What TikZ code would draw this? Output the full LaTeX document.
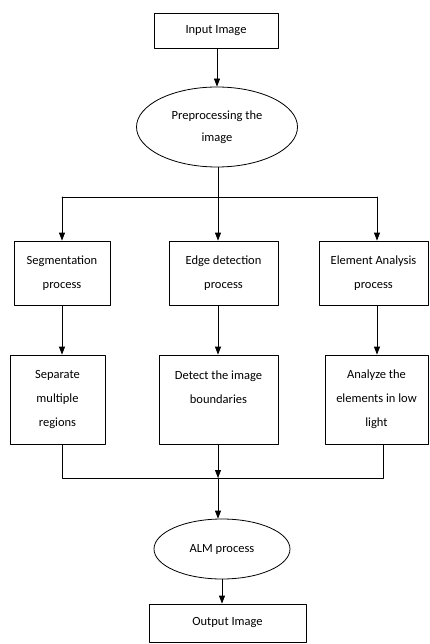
\documentclass[tikz,border=0pt]{standalone}
\usepackage{fontspec}
\setmainfont{Carlito}
\usetikzlibrary{arrows.meta,shapes.geometric}
\begin{document}
\begin{tikzpicture}[line cap=round,line join=round,>={Triangle[length=8pt,width=6pt]},x=1pt,y=-1pt,line width=0.8pt,
	box/.style={draw,rectangle,align=center,inner sep=0pt,font=\fontsize{12.5}{24}\selectfont},
	oval/.style={draw,ellipse,align=center,inner sep=0pt,font=\fontsize{12.5}{22}\selectfont}]
			\useasboundingbox (0,0) rectangle (429,644);
			\node[box,minimum width=124pt,minimum height=35pt] (in) at (216,30.5) {Input Image};
			\node[oval,minimum width=161pt,minimum height=80pt] (pre) at (217,127) {Preprocessing the\\image};
			\node[box,minimum width=96pt,minimum height=64pt] (seg) at (62,273) {Segmentation\\process};
			\node[box,minimum width=109pt,minimum height=64pt] (edge) at (223.5,273) {Edge detection\\process};
			\node[box,minimum width=109pt,minimum height=64pt] (elem) at (373.5,273) {Element Analysis\\process};
			\node[box,minimum width=95pt,minimum height=89pt] (sep) at (57.5,399.5) {Separate\\multiple\\regions};
			\node[box,minimum width=119pt,minimum height=89pt] (det) at (218.5,399.5) {Detect the image\\boundaries\\ \mbox{}};
			\node[box,minimum width=103pt,minimum height=89pt] (ana) at (376.5,399.5) {Analyze the\\elements in low\\light};
			\node[oval,minimum width=136pt,minimum height=60pt] (alm) at (222,549) {ALM process};
			\node[box,minimum width=157pt,minimum height=38pt] (out) at (227.5,623) {Output Image};
			\path (218,197)coordinate(T) (62,197)coordinate(TL) (377,197)coordinate(TR)
			(218,478)coordinate(B) (62,478)coordinate(BL) (383,478)coordinate(BR);
			\draw[->] (in.south -| pre.north) -- (pre.north);
			\draw (pre.south -| T)--(T) (TL)--(TR);
			\draw[->] (TL)--(seg.north -| TL);
			\draw[->] (T)--(edge.north -| T);
			\draw[->] (TR)--(elem.north -| TR);
			\draw[->] (seg.south -| TL)--(sep.north -| TL);
			\draw[->] (edge.south -| T)--(det.north -| T);
			\draw[->] (elem.south -| TR)--(ana.north -| TR);
			\draw (sep.south -| BL)--(BL)--(BR)--(ana.south -| BR);
			\draw[->] (det.south -| B)--(B);
			\draw[->] (B)--(alm.north -| B);
			\draw[->] (alm.south)--(out.north -| alm.south);
		\end{tikzpicture}
\end{document}
